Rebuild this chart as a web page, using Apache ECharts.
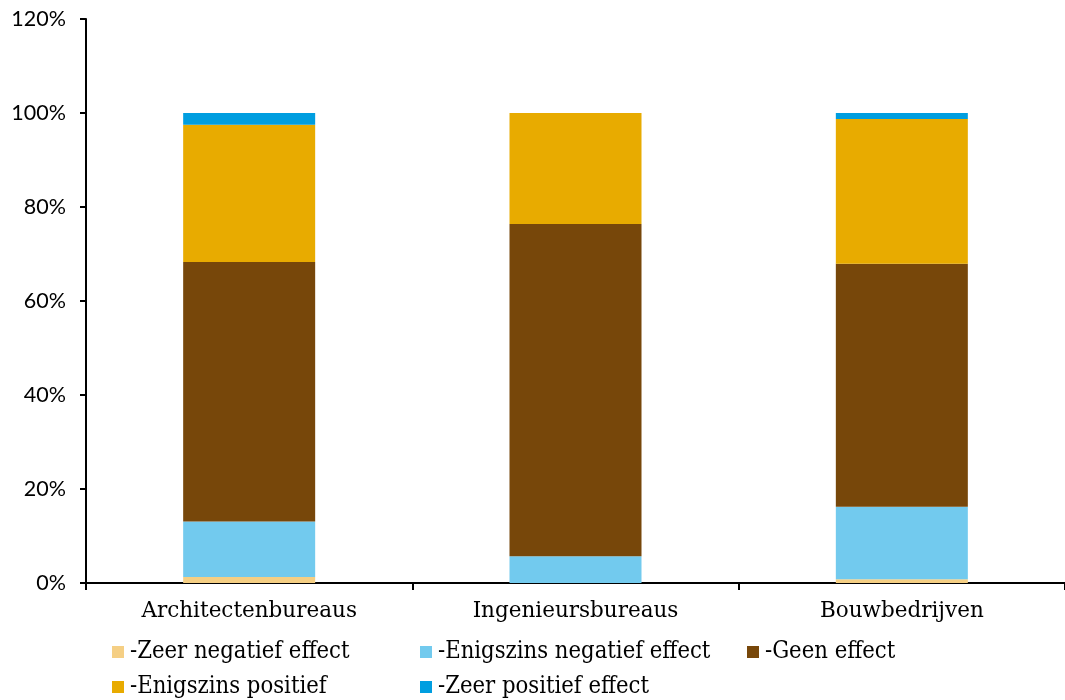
<!DOCTYPE html>
<html><head><meta charset="utf-8">
<script src="https://cdn.jsdelivr.net/npm/echarts@6/dist/echarts.min.js"></script>
<style>html,body{margin:0;padding:0;background:#fff}#c{width:1065px;height:700px}</style>
</head><body><div id="c"></div>
<script>
const categories = ['Architectenbureaus', 'Ingenieursbureaus', 'Bouwbedrijven'];
const seriesNames = ['-Zeer negatief effect', '-Enigszins negatief effect', '-Geen effect', '-Enigszins positief', '-Zeer positief effect'];
const zeerNegatief = [1.3, 0, 0.8];
const enigszinsNegatief = [11.8, 5.7, 15.4];
const geenEffect = [55.2, 70.7, 51.7];
const enigszinsPositief = [29.2, 23.6, 30.8];
const zeerPositief = [2.5, 0, 1.3];
const yTicks = [0, 20, 40, 60, 80, 100, 120];
const colors = ['#f5cf84', '#72caee', '#77470a', '#e8ab00', '#009ee0'];
const values = [zeerNegatief, enigszinsNegatief, geenEffect, enigszinsPositief, zeerPositief];

const serif = 'DejaVu Serif, serif';
const condensed = 'DejaVu Serif Condensed, DejaVu Serif, serif';
const chart = echarts.init(document.getElementById('c'));
const legendText = {fontFamily: condensed, fontSize: 23.6, color: '#000', padding: [0, 0, 0, 1]};
const legendPos = [[112, 640], [420, 640], [747, 640], [112, 675], [420, 675]];
chart.setOption({
  animation: false,
  grid: {left: 86, right: -3, top: 19, bottom: 117},
  xAxis: {
    type: 'category', data: categories,
    axisLine: {lineStyle: {color: '#000', width: 2}},
    axisTick: {show: true, length: 7, lineStyle: {color: '#000', width: 2}},
    axisLabel: {fontFamily: serif, fontSize: 21.5, color: '#000', margin: 17}
  },
  yAxis: {
    type: 'value', min: yTicks[0], max: yTicks[yTicks.length - 1], interval: 20,
    axisLine: {show: true, lineStyle: {color: '#000', width: 2}},
    axisTick: {show: true, length: 6, lineStyle: {color: '#000', width: 2}},
    splitLine: {show: false},
    axisLabel: {fontFamily: 'Lato, sans-serif', fontSize: 21.5, color: '#000', margin: 20, formatter: v => v + '%'}
  },
  legend: seriesNames.map((n, i) => ({
    data: [n], left: legendPos[i][0], top: legendPos[i][1], itemWidth: 12, itemHeight: 12,
    icon: 'rect', padding: 0, itemGap: 0, textStyle: legendText
  })),
  series: seriesNames.map((n, i) => ({
    name: n, type: 'bar', stack: 'a', data: values[i], barWidth: 132,
    itemStyle: {color: colors[i]}
  }))
});
</script></body></html>
